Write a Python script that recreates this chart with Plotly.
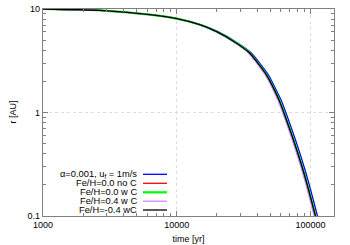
import plotly.graph_objects as go

# radius values [AU] shared by the curves
r_au = [10, 9.71, 8.81, 8.06, 7.05, 6.04, 4.80, 3.76, 2.30, 1.32, 0.99, 0.542, 0.249, 0.100, 0.0837]

# time values [yr] for each series
t_blue = [1000, 2672, 6326, 10100, 15070, 20290, 27770, 36110, 48500, 60250, 65640, 77270, 93370, 112760, 116640]
t_red = [1000, 2664, 6282, 9980, 14790, 19770, 26870, 34710, 46480, 57630, 62790, 73910, 89310, 107860, 111570]
t_green = [1000, 2664, 6290, 10010, 14880, 19930, 27150, 35130, 47040, 58330, 63550, 74810, 90390, 109170, 112930]
t_violet = [1000, 2664, 6275, 9960, 14750, 19690, 26740, 34500, 46060, 57050, 62150, 73170, 88410, 106770, 110450]
t_black = [1000, 2664, 6288, 10000, 14850, 19890, 27090, 35060, 46950, 58210, 63420, 74660, 90210, 108950, 112700]

labels = ["α=0.001, u<sub>f</sub> = 1m/s", "Fe/H=0.0 no C", "Fe/H=0.0 w C", "Fe/H=0.4 w C", "Fe/H=-0.4 wC"]
colors = ["#0000ff", "#ff0000", "#00ff00", "#cc88ff", "#000000"]
widths = [1.3, 1.3, 2.2, 1.3, 1.3]
series_t = [t_blue, t_red, t_green, t_violet, t_black]

x_ticks = [1000, 10000, 100000]
x_ticktext = ["1000", "10000", "100000"]
y_ticks = [0.1, 1, 10]
y_ticktext = ["0.1", "1", "10"]

fig = go.Figure()
for t, c, w, name in zip(series_t, colors, widths, labels):
    fig.add_trace(go.Scatter(x=t, y=r_au, mode="lines", name=name,
                             line=dict(color=c, width=w, shape="spline", smoothing=0.5),
                             showlegend=False, cliponaxis=True, hoverinfo="skip"))

# manual legend (text on left, sample on right), gnuplot style
legend_y = [174.3, 183.3, 192.3, 201.2, 210.0]
for lab, c, w, yy in zip(labels, colors, widths, legend_y):
    yp = (216 - yy) / 207
    fig.add_annotation(xref="paper", yref="paper", x=(138 - 43) / 291, y=yp,
                       text=lab, showarrow=False, xanchor="right", yanchor="middle",
                       font=dict(size=9.3, color="#000000"), borderpad=0)
    fig.add_shape(type="line", xref="paper", yref="paper",
                  x0=(143 - 43) / 291, x1=(167 - 43) / 291, y0=yp, y1=yp,
                  line=dict(color=c, width=w))

# y-axis title as rotated annotation
fig.add_annotation(xref="paper", yref="paper", x=(12 - 43) / 291, y=0.5, text="r [AU]",
                   textangle=-90, showarrow=False, xanchor="center", yanchor="middle",
                   font=dict(size=9, color="#000000"), borderpad=0)

axis_common = dict(
    showline=True, linecolor="#808080", linewidth=1.2, mirror="allticks",
    ticks="inside", ticklen=5, tickcolor="#808080", tickwidth=1,
    showgrid=True, gridcolor="#dddddd", griddash="3px,3px", gridwidth=1,
    zeroline=False, tickfont=dict(size=9, color="#000000"), automargin=False,
    minor=dict(ticks="inside", ticklen=3, tickcolor="#808080", dtick="D1", showgrid=False),
)

fig.update_xaxes(type="log", range=[3, 5.176], tickvals=x_ticks, ticktext=x_ticktext,
                 title=dict(text="time [yr]", font=dict(size=9), standoff=6), **axis_common)
fig.update_yaxes(type="log", range=[-1, 1], tickvals=y_ticks, ticktext=y_ticktext, **axis_common)

fig.update_layout(
    width=350, height=245,
    margin=dict(l=43, r=16, t=9, b=29),
    paper_bgcolor="white", plot_bgcolor="white",
    font=dict(family="Liberation Sans, Arial, sans-serif", size=9, color="#000000"),
)

fig.write_html("out.html", config={"displayModeBar": False, "staticPlot": True},
               post_script="document.body.style.margin='0px';document.body.style.overflow='hidden';")
